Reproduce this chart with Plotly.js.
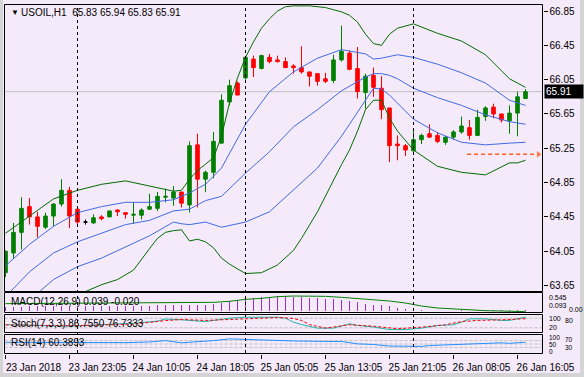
<!DOCTYPE html>
<html><head><meta charset="utf-8">
<script src="https://cdn.plot.ly/plotly-3.0.1.min.js"></script>
<style>html,body{margin:0;padding:0;background:#d4d4d4;}#chart{width:584px;height:377px;}</style>
</head><body><div id="chart"></div>
<script>
// ---------- data ----------
const symbol = 'USOIL,H1';
const open  = [63.80,64.03,64.27,64.57,64.45,64.33,64.46,64.60,64.76,64.54,64.39,64.38,64.45,64.45,64.53,64.50,64.47,64.47,64.54,64.55,64.68,64.67,64.74,64.59,65.29,64.89,64.97,65.31,65.79,66.01,66.07,66.29,66.18,66.31,66.28,66.26,66.21,66.19,66.14,66.12,66.06,66.04,66.28,66.36,66.18,65.90,66.10,65.95,65.72,65.30,65.28,65.22,65.35,65.42,65.40,65.32,65.38,65.44,65.49,65.40,65.62,65.73,65.65,65.57,65.66,65.83];
const high  = [64.06,64.38,64.68,64.67,64.51,64.50,64.61,64.89,64.80,64.55,64.42,64.48,64.47,64.52,64.54,64.50,64.62,64.55,64.72,64.74,64.78,64.81,64.74,65.33,65.42,64.99,65.44,65.88,66.05,66.03,66.31,66.33,66.34,66.35,66.33,66.31,66.23,66.44,66.14,66.12,66.13,66.34,66.68,66.39,66.43,66.12,66.19,66.09,65.72,65.40,65.30,65.46,65.42,65.53,65.44,65.39,65.46,65.62,65.58,65.70,65.74,65.77,65.65,65.75,65.91,65.94];
const low   = [63.75,63.96,64.07,64.36,64.21,64.31,64.34,64.57,64.32,64.37,64.36,64.37,64.41,64.45,64.46,64.43,64.37,64.42,64.53,64.52,64.62,64.58,64.56,64.50,64.56,64.74,64.90,65.31,65.75,65.87,66.05,66.08,66.17,66.24,66.25,66.19,66.12,66.12,65.97,65.98,66.01,66.01,66.26,66.16,65.83,65.71,65.85,65.59,65.09,65.11,65.16,65.21,65.30,65.37,65.31,65.29,65.35,65.42,65.35,65.40,65.57,65.60,65.55,65.42,65.39,65.83];
const close = [64.05,64.27,64.55,64.45,64.34,64.46,64.60,64.76,64.46,64.39,64.39,64.44,64.43,64.52,64.51,64.48,64.48,64.53,64.57,64.69,64.69,64.74,64.61,65.28,64.89,64.97,65.33,65.81,65.98,65.87,66.31,66.19,66.33,66.26,66.26,66.19,66.19,66.14,66.09,66.03,66.03,66.28,66.38,66.17,65.91,66.09,65.96,65.70,65.28,65.28,65.23,65.35,65.40,65.38,65.33,65.38,65.44,65.51,65.40,65.61,65.72,65.65,65.58,65.66,65.85,65.91];

// Bollinger bands (read at sampled bars)
const bbOuterUpBars = [0,3,6,9,12,15,18,21,22,23,24,25,26,27,28,29,30,31,32,33,34,35,36,38,40,42,43,44,45,46,47,48,49,51,54,57,60,63,65];
const bbOuterUp     = [64.26,64.46,64.66,64.76,64.83,64.87,64.81,64.75,64.76,64.89,64.99,65.06,65.14,65.39,65.78,66.07,66.31,66.49,66.65,66.76,66.85,66.90,66.91,66.91,66.89,66.84,66.80,66.72,66.58,66.47,66.45,66.58,66.65,66.70,66.59,66.50,66.34,66.06,65.96];
const bbInnerUpBars = [0,3,6,9,12,15,18,21,23,25,27,30,33,36,39,42,45,46,47,48,49,51,54,57,60,63,65];
const bbInnerUp     = [63.88,64.13,64.34,64.50,64.57,64.62,64.62,64.65,64.73,64.83,65.02,65.53,65.91,66.14,66.30,66.40,66.35,66.29,66.30,66.32,66.34,66.31,66.23,66.13,66.01,65.81,65.75];
const bbMidBars     = [0,3,6,9,12,15,18,21,23,25,27,30,33,36,39,42,45,46,47,48,49,51,54,57,60,63,65];
const bbMid         = [63.52,63.81,64.03,64.16,64.26,64.36,64.41,64.52,64.54,64.64,64.69,64.96,65.21,65.50,65.70,65.92,66.08,66.12,66.12,66.10,66.06,65.95,65.84,65.75,65.64,65.56,65.53];
const bbInnerLoBars = [0,3,6,9,12,15,18,21,22,23,25,27,30,33,36,39,42,45,46,47,48,51,54,57,60,63,65];
const bbInnerLo     = [63.16,63.48,63.72,63.87,63.97,64.10,64.23,64.39,64.37,64.36,64.39,64.33,64.39,64.51,64.76,65.02,65.39,65.81,65.95,65.94,65.87,65.59,65.43,65.32,65.29,65.31,65.32];
const bbOuterLoBars = [3,6,9,12,14,16,18,19,20,21,22,23,24,25,26,27,28,30,32,34,36,37,39,41,42,43,44,45,46,47,48,49,51,54,57,60,62,63,64,65];
const bbOuterLo     = [63.13,63.40,63.54,63.66,63.72,63.83,64.08,64.20,64.27,64.29,64.30,64.17,64.19,64.16,64.09,63.97,63.90,63.79,63.80,63.89,64.06,64.20,64.51,64.88,65.06,65.23,65.45,65.70,65.81,65.81,65.60,65.45,65.23,65.04,64.97,64.94,65.03,65.08,65.08,65.11];

// MACD
const macdHist = [0.12,0.12,0.13,0.14,0.14,0.14,0.15,0.15,0.16,0.15,0.15,0.15,0.15,0.15,0.15,0.15,
                  0.16,0.16,0.16,0.17,0.17,0.17,0.17,0.17,0.19,0.19,0.21,
                  0.25,0.29,0.32,0.35,0.40,0.41,0.43,0.44,0.44,
                  0.42,0.41,0.40,0.39,0.37,0.35,0.32,0.29,0.26,0.22,0.19,0.19,0.14,0.08,0.05,
                  0.03,0.02,0.01,0.01,0.01,0.01,0.02,0.01,0.02,0.02,0.02,0.02,0.03,0.03,0.039];
const macdSigBars = [0,10,20,26,28,30,32,34,36,38,40,42,44,46,48,50,52,54,56,58,60,62,65];
const macdSig     = [0.22,0.24,0.25,0.26,0.29,0.35,0.38,0.43,0.45,0.45,0.44,0.41,0.38,0.35,0.30,0.24,0.15,0.09,0.06,0.03,0.01,0.0,-0.020];

// Stochastic
const stochMainBars = [0,4,8,12,16,19,20,22,25,28,30,34,35,36,37,39,41,43,44,46,48,50,52,54,56,57,58,60,62,63,64,65];
const stochMain     = [40,35,30,40,48,62,75,70,59,80,86,86,80,55,40,18,18,45,35,25,9,9,18,34,39,55,76,76,66,66,76,86.7550];
const stochSigBars  = [0,4,8,12,16,20,22,25,28,30,34,35,36,37,38,40,43,46,49,52,55,57,59,62,65];
const stochSig      = [38,36,33,37,43,65,72,66,72,80,84,82,78,66,40,18,39,30,14,24,39,59,66,70,76.7333];
const stochLevels   = [20,80];

// RSI
const rsiBars = [0,5,10,15,18,20,22,25,26,28,30,33,36,40,42,44,46,48,50,52,53,55,56,59,60,62,63,64,65];
const rsiVals = [60,58,57,58,62,70,57,66,70,80,76,72,68,65,65,51,47,38,36,36,41,45,49,51,57,57,54,58,60.3893];
const rsiLevels = [30,50,70];

// axes / annotations
const priceTicks = [63.65,64.05,64.45,64.85,65.25,65.65,66.05,66.45,66.85];
const tickBars   = [0,8,16,24,32,40,48,56,64];
const tickLabels = ['23 Jan 2018','23 Jan 23:05','24 Jan 10:05','24 Jan 18:05','25 Jan 05:05','25 Jan 13:05','25 Jan 21:05','26 Jan 08:05','26 Jan 16:05'];
const separatorBars = [9,30,51];
const alertLevel = 65.18, alertFromBar = 57.7, alertToBar = 66.6;
const macdLabels  = ['0.545','0.093','0.00'];
const stochLabels = ['100','80','20'];
const rsiLabels   = ['100','70','50','30','0'];

// ---------- drawing ----------
const W = 584, H = 377;
const px = v => v / W, py = v => 1 - v / H;
const BG = '#F5EAFA';
const X0 = 4.5, X1 = 542.5;
const n = close.length;
const idx = close.map((_, i) => i);
const body = idx.filter(i => open[i] !== close[i]);
const doji = idx.filter(i => open[i] === close[i]);
const pick = (a, ids) => ids.map(i => a[i]);

const GREEN = '#008000', RED = '#FF0000', BAND_G = '#006A00', BAND_B = '#4169E1';
const line = (x, y, color, yaxis, extra) => Object.assign({type:'scatter', mode:'lines', x, y, yaxis, xaxis:'x', line:{color, width:1}, hoverinfo:'skip'}, extra||{});

const traces = [
  line(bbOuterUpBars, bbOuterUp, BAND_G, 'y'),
  line(bbOuterLoBars, bbOuterLo, BAND_G, 'y'),
  line(bbInnerUpBars, bbInnerUp, BAND_B, 'y'),
  line(bbMidBars, bbMid, BAND_B, 'y'),
  line(bbInnerLoBars, bbInnerLo, BAND_B, 'y'),
  {type:'candlestick', x: body, open: pick(open, body), high: pick(high, body), low: pick(low, body), close: pick(close, body),
   xaxis:'x', yaxis:'y', whiskerwidth:0, hoverinfo:'skip',
   increasing:{line:{color:GREEN, width:1}, fillcolor:GREEN},
   decreasing:{line:{color:RED, width:1}, fillcolor:RED}},
  {type:'candlestick', x: doji, open: pick(open, doji), high: pick(high, doji), low: pick(low, doji), close: pick(close, doji),
   xaxis:'x', yaxis:'y', whiskerwidth:0, hoverinfo:'skip',
   increasing:{line:{color:'#000', width:1}, fillcolor:'#000'},
   decreasing:{line:{color:'#000', width:1}, fillcolor:'#000'}},
  {type:'scatter', mode:'lines+markers', x:[alertFromBar, alertToBar], y:[alertLevel, alertLevel], xaxis:'x', yaxis:'y',
   line:{color:'#FF5A1F', width:1.5, dash:'4px,3px'}, marker:{symbol:'triangle-right', size:[0,8], color:'#FF5A1F'}, hoverinfo:'skip', cliponaxis:false},
  {type:'bar', x: idx, y: macdHist, xaxis:'x', yaxis:'y2', width:0.14, marker:{color:'#9932CC', line:{width:0}}, hoverinfo:'skip'},
  line(macdSigBars, macdSig, GREEN, 'y2'),
  line(stochMainBars, stochMain, '#20B2AA', 'y3'),
  line(stochSigBars, stochSig, RED, 'y3', {line:{color:RED, width:1, dash:'3px,2px'}}),
  line(rsiBars, rsiVals, '#1E90FF', 'y4'),
];

const shapes = [];
// window border
shapes.push({type:'rect', xref:'paper', yref:'paper', x0:0, x1:px(3), y0:0, y1:1, fillcolor:'#D4D4D4', line:{width:0}, layer:'below'});
shapes.push({type:'rect', xref:'paper', yref:'paper', x0:px(580), x1:1, y0:0, y1:1, fillcolor:'#D4D4D4', line:{width:0}, layer:'below'});
shapes.push({type:'rect', xref:'paper', yref:'paper', x0:0, x1:1, y0:0, y1:py(373), fillcolor:'#D4D4D4', line:{width:0}, layer:'below'});
// bid line
shapes.push({type:'line', xref:'paper', yref:'y', x0:px(X0), x1:px(X1), y0:close[n-1], y1:close[n-1], line:{color:'#C0C0C0', width:1}, layer:'below'});
// level lines
stochLevels.forEach(v => shapes.push({type:'line', xref:'paper', yref:'y3', x0:px(X0), x1:px(X1), y0:v, y1:v, line:{color:'#BDBDBD', width:1, dash:'3px,2px'}, layer:'below'}));
rsiLevels.forEach(v => shapes.push({type:'line', xref:'paper', yref:'y4', x0:px(X0), x1:px(X1), y0:v, y1:v, line:{color:'#BDBDBD', width:1, dash:'3px,2px'}, layer:'below'}));
// separators
separatorBars.forEach(b => shapes.push({type:'line', xref:'x', yref:'paper', x0:b, x1:b, y0:py(353), y1:py(4.5), line:{color:'#000', width:1, dash:'3px,3px'}, layer:'above'}));
// frames
[[4.5,291.5],[292.5,312.5],[314.5,332.5],[334.5,353.5]].forEach(([t,b]) =>
  shapes.push({type:'rect', xref:'paper', yref:'paper', x0:px(X0), x1:px(X1), y0:py(b), y1:py(t), line:{color:'#000', width:1}, fillcolor:'rgba(0,0,0,0)', layer:'above'}));

const ann = [];
const txt = (text, x, y, extra) => Object.assign({text, xref:'paper', yref:'paper', x:px(x), y:py(y), xanchor:'left', yanchor:'middle', showarrow:false, font:{size:10, color:'#000'}}, extra||{});
ann.push(txt('▼', 9, 12, {font:{size:8, color:'#000'}}));
ann.push(txt(symbol + '  ' + [open[n-1], high[n-1], low[n-1], close[n-1]].map(v => v.toFixed(2)).join(' '), 19, 12.5));
ann.push(txt('MACD(12,26,9) ' + macdHist[n-1].toFixed(3) + ' ' + macdSig[macdSig.length-1].toFixed(3), 9, 301));
ann.push(txt('Stoch(7,3,3) ' + stochMain[stochMain.length-1].toFixed(4) + ' ' + stochSig[stochSig.length-1].toFixed(4), 9, 323));
ann.push(txt('RSI(14) ' + rsiVals[rsiVals.length-1].toFixed(4), 9, 342));
// current price box
ann.push({text: close[n-1].toFixed(2), xref:'paper', yref:'y', x:px(544), y:close[n-1], xanchor:'left', yanchor:'middle', showarrow:false,
  bgcolor:'#000', font:{size:10, color:'#fff'}, borderpad:1, width:36, align:'left'});
// sub-window scale labels (small, staggered so they stay readable)
const small = {font:{size:7, color:'#000'}};
[[547,297.5],[547,305],[567,309.5]].forEach(([x,y], i) => ann.push(txt(macdLabels[i], x, y, small)));
[[547,318],[563,320],[547,327.5]].forEach(([x,y], i) => ann.push(txt(stochLabels[i], x, y, small)));
[[547,337.5],[563,339.5],[547,344.5],[563,347],[547,351]].forEach(([x,y], i) => ann.push(txt(rsiLabels[i], x, y, {font:{size:6.5, color:'#000'}})));

const subAxis = (d0, d1, range) => ({domain:[py(d1), py(d0)], range, anchor:'x', showgrid:false, zeroline:false, showticklabels:false, ticks:'', fixedrange:true});

const layout = {
  width: W, height: H, margin:{l:0, r:0, t:0, b:0},
  paper_bgcolor: BG, plot_bgcolor: BG, showlegend:false,
  font:{family:'"Liberation Sans", Arial, sans-serif', size:10, color:'#000'},
  boxgap: 0.36, bargap: 0,
  xaxis:{domain:[px(X0), px(X1)], range:[-0.125, 67.125], anchor:'y4', tickvals: tickBars, ticktext: tickLabels,
    ticks:'outside', ticklen:4, tickcolor:'#000', tickwidth:1, showgrid:false, zeroline:false, showline:false,
    rangeslider:{visible:false}, ticklabelshift:28, tickfont:{size:10}, fixedrange:true},
  yaxis:{domain:[py(291.5), py(4.5)], range:[66.85 - (291.5-11)/85.8, 66.85 + (11-4.5)/85.8], side:'right', anchor:'x',
    tickvals: priceTicks, ticktext: priceTicks.map(v => v.toFixed(2)), ticks:'outside', ticklen:4, tickcolor:'#000',
    showgrid:false, zeroline:false, showline:false, tickfont:{size:10}, fixedrange:true},
  yaxis2: subAxis(292.5, 312.5, [-0.045, 0.555]),
  yaxis3: subAxis(314.5, 332.5, [-9.4, 103.1]),
  yaxis4: subAxis(334.5, 353.5, [-5.9, 105.9]),
  shapes, annotations: ann,
};
Plotly.newPlot('chart', traces, layout, {staticPlot:true, displayModeBar:false});
</script></body></html>
